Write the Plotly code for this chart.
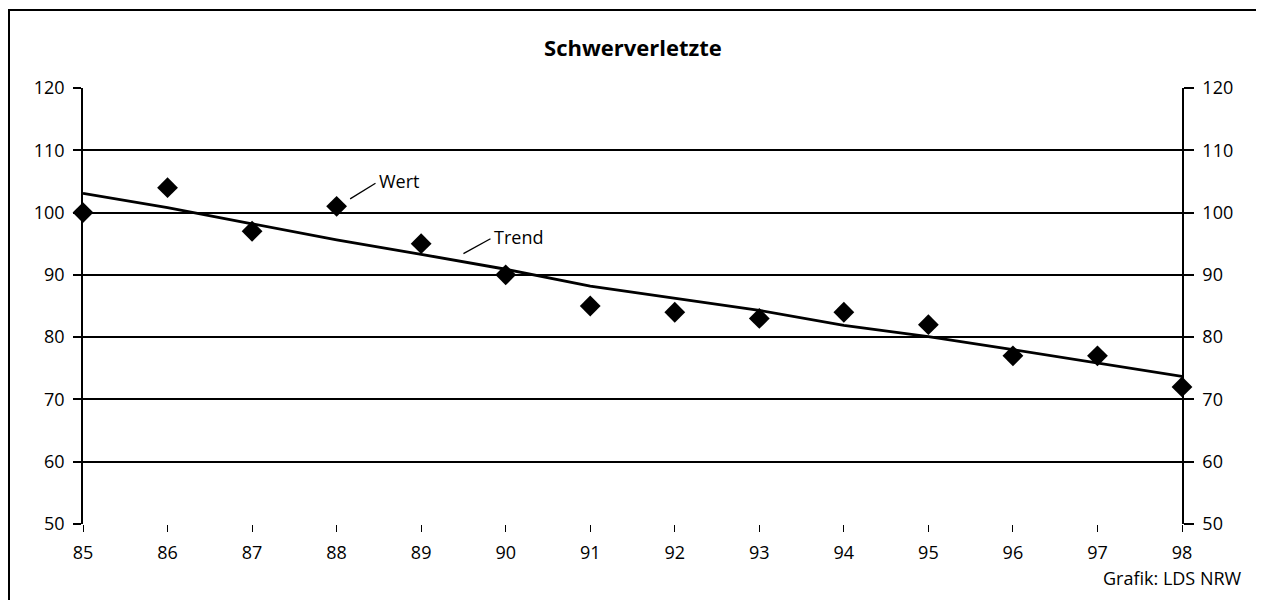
import plotly.graph_objects as go

years = [85, 86, 87, 88, 89, 90, 91, 92, 93, 94, 95, 96, 97, 98]
wert = [100, 104, 97, 101, 95, 90, 85, 84, 83, 84, 82, 77, 77, 72]
trend = [103.1, 100.8, 98.2, 95.6, 93.3, 90.9, 88.2, 86.2, 84.3, 81.9, 80.1, 78.0, 75.9, 73.7]
y_ticks = [50, 60, 70, 80, 90, 100, 110, 120]
title = "Schwerverletzte"
credit = "Grafik: LDS NRW"

FONT = "Open Sans"
# page has an 8px body margin; figure sized to fit the 1264x600 viewport
W, H = 1256, 592
L, R, T, B = 75, 82, 80, 76
PW, PH = W - L - R, H - T - B

def px_x(fx):
    return (fx - L) / PW

def px_y(fy):
    return (H - B - fy) / PH

fig = go.Figure()
fig.add_trace(go.Scatter(x=years, y=trend, mode="lines",
                         line=dict(color="black", width=2.8), showlegend=False))
fig.add_trace(go.Scatter(x=years, y=wert, mode="markers",
                         marker=dict(symbol="diamond", size=16, color="black"),
                         showlegend=False, cliponaxis=False))
fig.add_trace(go.Scatter(x=[years[0]], y=[wert[0]], yaxis="y2", mode="markers",
                         marker=dict(opacity=0), showlegend=False, hoverinfo="skip"))

axis_font = dict(family=FONT, size=18, color="black")
fig.update_layout(
    width=W, height=H,
    margin=dict(l=L, r=R, t=T, b=B, autoexpand=False),
    paper_bgcolor="white", plot_bgcolor="white",
    font=dict(family=FONT, color="black"),
    title=dict(text="<b>" + title + "</b>", x=0.4976, xanchor="center", y=1 - 40 / H,
               yanchor="middle", font=dict(family=FONT, size=22, color="black")),
    xaxis=dict(range=[years[0], years[-1]], tickmode="array", tickvals=years,
               ticktext=[str(y) for y in years], showgrid=False, zeroline=False,
               showline=False, ticks="outside", ticklen=7, tickwidth=1.3, tickcolor="black",
               tickfont=axis_font, ticklabelstandoff=5),
    yaxis=dict(range=[50, 120], tickmode="array", tickvals=y_ticks, showgrid=True,
               gridcolor="black", gridwidth=1.5, zeroline=False, showline=True,
               linecolor="black", linewidth=1.5, ticks="outside", ticklen=8,
               tickwidth=1.5, tickcolor="black", tickfont=axis_font, ticklabelstandoff=5),
    yaxis2=dict(range=[50, 120], tickmode="array", tickvals=y_ticks, overlaying="y",
                side="right", showgrid=False, zeroline=False, showline=True,
                linecolor="black", linewidth=1.5, ticks="outside", ticklen=10,
                tickwidth=1.5, tickcolor="black", tickfont=axis_font, ticklabelstandoff=5),
)

# outer frame
fig.add_shape(type="rect", xref="paper", yref="paper", x0=px_x(1), x1=px_x(1250),
              y0=px_y(596), y1=px_y(2), line=dict(color="black", width=2), layer="below")

# label leader lines
label_lines = [((88.16, 102.2), (88.46, 104.7)), ((89.5, 93.4), (89.82, 95.8))]
label_text = ["Wert", "Trend"]
for (p0, p1), txt in zip(label_lines, label_text):
    fig.add_shape(type="line", xref="x", yref="y", x0=p0[0], y0=p0[1], x1=p1[0], y1=p1[1],
                  line=dict(color="black", width=1.3))
    fig.add_annotation(x=p1[0] + 0.02, y=p1[1] + 0.3, xref="x", yref="y", text=txt,
                       showarrow=False, xanchor="left", yanchor="middle",
                       font=dict(family=FONT, size=18, color="black"))

fig.add_annotation(x=px_x(1236), y=px_y(570), xref="paper", yref="paper", text=credit,
                   showarrow=False, xanchor="right", yanchor="middle",
                   font=dict(family=FONT, size=18, color="black"))

fig.write_html("out.html")
